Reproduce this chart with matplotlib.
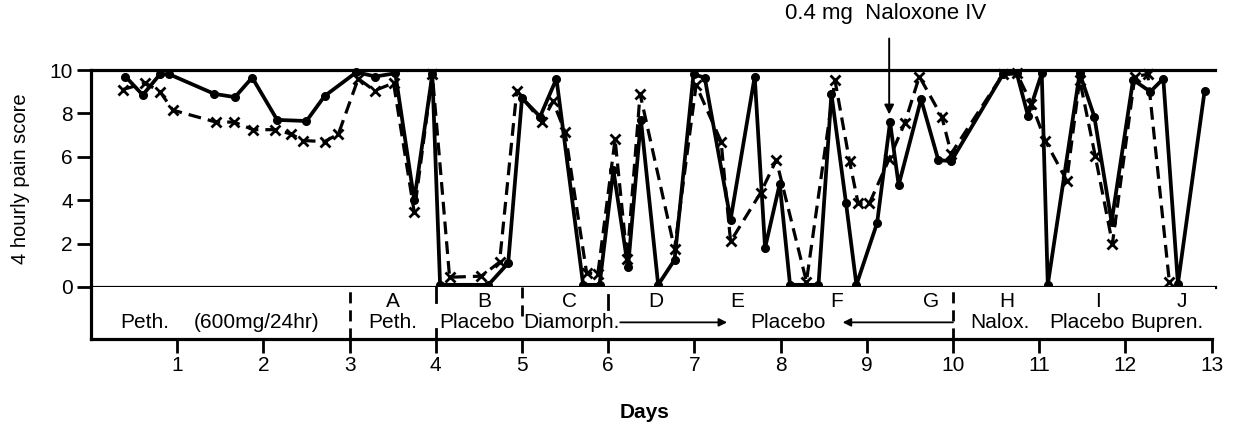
import matplotlib
matplotlib.use("Agg")
import matplotlib.pyplot as plt

plt.rcParams['font.family'] = ['Liberation Sans', 'DejaVu Sans']

# Pain scores, solid trace (filled dots)
days_solid = [0.40, 0.60, 0.80, 0.91, 1.43, 1.67, 1.87, 2.16, 2.50, 2.71, 3.08, 3.30,
              3.53, 3.75, 3.96, 4.05, 4.61, 4.84, 5.00, 5.21, 5.40, 5.71, 5.90, 6.06,
              6.23, 6.38, 6.58, 6.77, 6.99, 7.12, 7.42, 7.70, 7.82, 7.99, 8.11, 8.44,
              8.59, 8.76, 8.88, 9.12, 9.27, 9.37, 9.63, 9.83, 9.98, 10.58, 10.74, 10.87,
              11.03, 11.10, 11.47, 11.64, 11.84, 12.09, 12.29, 12.44, 12.61, 12.92]
score_solid = [9.7, 8.85, 9.8, 9.8, 8.9, 8.75, 9.65, 7.7, 7.65, 8.8, 9.9, 9.7,
               9.85, 4.0, 9.8, 0.1, 0.1, 1.1, 8.7, 7.85, 9.6, 0.1, 0.1, 5.4,
               0.9, 7.7, 0.1, 1.25, 9.8, 9.65, 3.1, 9.7, 1.8, 4.75, 0.1, 0.1,
               8.9, 3.85, 0.1, 2.95, 7.6, 4.7, 8.65, 5.85, 5.8, 9.8, 9.85, 7.9,
               9.85, 0.1, 9.85, 7.85, 3.0, 9.55, 9.0, 9.6, 0.15, 9.05]

# Pain scores, dashed trace (crosses)
days_dash = [0.37, 0.63, 0.80, 0.95, 1.45, 1.66, 1.88, 2.14, 2.32, 2.46, 2.71, 2.87,
             3.10, 3.29, 3.51, 3.75, 3.96, 4.16, 4.53, 4.74, 4.94, 5.23, 5.36, 5.50,
             5.75, 5.88, 6.08, 6.22, 6.37, 6.77, 7.02, 7.31, 7.42, 7.77, 7.95, 8.30,
             8.63, 8.80, 8.90, 9.03, 9.26, 9.44, 9.61, 9.87, 9.98, 10.58, 10.74, 10.91,
             11.07, 11.32, 11.47, 11.65, 11.85, 12.11, 12.26, 12.51]
score_dash = [9.1, 9.4, 9.0, 8.15, 7.6, 7.6, 7.25, 7.25, 7.05, 6.75, 6.7, 7.05,
              9.6, 9.05, 9.4, 3.45, 9.8, 0.45, 0.5, 1.15, 9.05, 7.6, 8.55, 7.15,
              0.65, 0.6, 6.8, 1.3, 8.9, 1.75, 9.3, 6.7, 2.1, 4.35, 5.85, 0.25,
              9.55, 5.8, 3.85, 3.85, 5.9, 7.55, 9.7, 7.85, 6.15, 9.8, 9.85, 8.45,
              6.75, 4.9, 9.55, 6.05, 2.0, 9.7, 9.8, 0.25]

day_ticks = list(range(1, 14))
score_ticks = [0, 2, 4, 6, 8, 10]

# Treatment periods: letter label and its day position
period_letters = ['A', 'B', 'C', 'D', 'E', 'F', 'G', 'H', 'I', 'J']
period_letter_days = [3.50, 4.56, 5.55, 6.55, 7.50, 8.65, 9.75, 10.62, 11.68, 12.65]
drug_names = ['Peth.', '(600mg/24hr)', 'Peth.', 'Placebo', 'Diamorph.', 'Placebo',
              'Nalox.', 'Placebo', 'Bupren.']
drug_name_days = [0.62, 1.92, 3.50, 4.48, 5.57, 8.08, 10.55, 11.56, 12.48]

XMAX = 13.04
FS = 15

fig = plt.figure(figsize=(12.44, 4.29), dpi=100)
W, H = 1244.0, 429.0
left = 91 / W
width = (1215 - 91) / W
ax = fig.add_axes([left, 1 - 287 / H, width, (287 - 70) / H])
axb = fig.add_axes([left, 1 - 339 / H, width, (339 - 287) / H])

ax.plot(days_solid, score_solid, color='k', lw=2.7, marker='o', ms=5.5,
        clip_on=False, zorder=4)
ax.plot(days_dash, score_dash, color='k', lw=2.3, ls=(0, (4, 2.2)), marker='x',
        ms=6.5, mew=2.0, clip_on=False, zorder=3)

ax.set_xlim(0, XMAX)
ax.set_ylim(0, 10)
ax.set_xticks([])
ax.set_yticks(score_ticks)
ax.set_yticklabels([str(v) for v in score_ticks], fontsize=FS)
ax.tick_params(axis='y', direction='out', length=10, width=2, pad=3)
for s in ['left', 'top', 'bottom']:
    ax.spines[s].set_linewidth(2.3)
ax.spines['right'].set_visible(False)
ax.set_ylabel('4 hourly pain score', fontsize=14.5, labelpad=14)

ax.annotate('', xy=(9.26, 7.95), xytext=(9.26, 11.45),
            arrowprops=dict(arrowstyle='-|>', color='k', lw=1.4,
                            mutation_scale=14, shrinkA=0, shrinkB=0),
            annotation_clip=False)
ax.text(9.22, 12.6, '0.4 mg  Naloxone IV', fontsize=16, ha='center', va='center')

# Treatment box under the pain score axes
axb.set_xlim(0, XMAX)
axb.set_ylim(0, 1)
axb.set_yticks([])
axb.set_xticks(day_ticks)
axb.set_xticklabels([str(d) for d in day_ticks], fontsize=FS)
axb.tick_params(axis='x', direction='out', length=10, width=2, pad=2)
axb.spines['right'].set_visible(False)
axb.spines['top'].set_visible(False)
for s in ['left', 'bottom']:
    axb.spines[s].set_linewidth(2.3)
axb.spines['bottom'].set_bounds(0, 13)

for d, t in zip(period_letter_days, period_letters):
    axb.text(d, 0.72, t, fontsize=FS, ha='center', va='center')
for d, t in zip(drug_name_days, drug_names):
    axb.text(d, 0.32, t, fontsize=FS, ha='center', va='center')

# Period separators
for d in [3, 10]:
    axb.plot([d, d], [0, 1], color='k', lw=2, ls=(0, (4, 2.5)))
axb.plot([5, 5], [0.45, 1], color='k', lw=2, ls=(0, (4, 2.5)))
axb.plot([4, 4], [0.72, 1], color='k', lw=2)
axb.plot([4, 4], [0, 0.2], color='k', lw=2)
axb.plot([6, 6], [0.58, 0.85], color='k', lw=2)

axb.annotate('', xy=(7.38, 0.32), xytext=(6.14, 0.32),
             arrowprops=dict(arrowstyle='-|>', color='k', lw=1.3, mutation_scale=12,
                             shrinkA=0, shrinkB=0))
axb.annotate('', xy=(8.72, 0.32), xytext=(10.0, 0.32),
             arrowprops=dict(arrowstyle='-|>', color='k', lw=1.3, mutation_scale=12,
                             shrinkA=0, shrinkB=0))

fig.text(645 / W, 1 - 412 / H, 'Days', fontsize=FS, fontweight='bold',
         ha='center', va='center')

fig.savefig('out.png', dpi=100)
